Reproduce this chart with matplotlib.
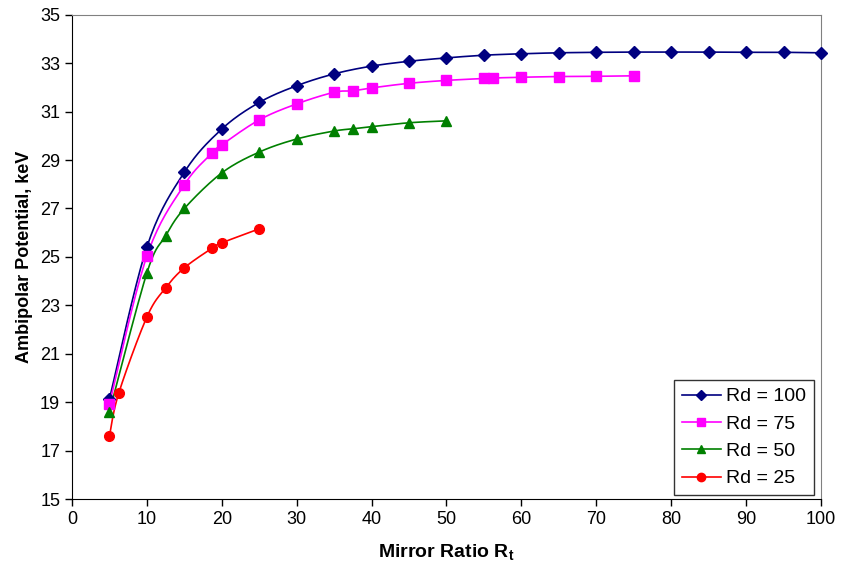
import matplotlib
matplotlib.use('Agg')
matplotlib.rc('font', **{'family': 'sans-serif', 'sans-serif': ['Liberation Sans', 'DejaVu Sans']})
import matplotlib.pyplot as plt
import numpy as np

# data
x100 = [5, 10, 15, 20, 25, 30, 35, 40, 45, 50, 55, 60, 65, 70, 75, 80, 85, 90, 95, 100]
y100 = [19.13, 25.41, 28.5, 30.28, 31.38, 32.07, 32.56, 32.88, 33.08, 33.22, 33.33, 33.39,
        33.43, 33.45, 33.46, 33.46, 33.46, 33.45, 33.45, 33.43]

x75 = [5, 10, 15, 18.75, 20, 25, 30, 35, 37.5, 40, 45, 50, 55, 56.25, 60, 65, 70, 75]
y75 = [18.93, 25.04, 27.98, 29.3, 29.63, 30.66, 31.32, 31.8, 31.86, 31.98, 32.17, 32.29,
       32.37, 32.39, 32.42, 32.45, 32.46, 32.48]

x50 = [5, 10, 12.5, 15, 20, 25, 30, 35, 37.5, 40, 45, 50]
y50 = [18.6, 24.34, 25.87, 27.0, 28.47, 29.33, 29.87, 30.2, 30.29, 30.38, 30.54, 30.62]

x25 = [5, 6.25, 10, 12.5, 15, 18.75, 20, 25]
y25 = [17.6, 19.38, 22.52, 23.72, 24.55, 25.37, 25.58, 26.16]

series = [
    ('Rd = 100', x100, y100, '#000080', 'D', 6),
    ('Rd = 75', x75, y75, '#ff00ff', 's', 7),
    ('Rd = 50', x50, y50, '#008000', '^', 7),
    ('Rd = 25', x25, y25, '#ff0000', 'o', 7),
]


def smooth(x, y, n=20):
    # Excel-like smoothed line: Catmull-Rom style bezier through points
    x = np.asarray(x, float)
    y = np.asarray(y, float)
    px = np.concatenate([[x[0]], x, [x[-1]]])
    py = np.concatenate([[y[0]], y, [y[-1]]])
    xs, ys = [], []
    t = np.linspace(0, 1, n)
    for i in range(1, len(px) - 2):
        p0 = np.array([px[i], py[i]])
        p3 = np.array([px[i + 1], py[i + 1]])
        p1 = p0 + (np.array([px[i + 1], py[i + 1]]) - np.array([px[i - 1], py[i - 1]])) / 6
        p2 = p3 - (np.array([px[i + 2], py[i + 2]]) - np.array([px[i], py[i]])) / 6
        b = ((1 - t) ** 3)[:, None] * p0 + (3 * (1 - t) ** 2 * t)[:, None] * p1 \
            + (3 * (1 - t) * t ** 2)[:, None] * p2 + (t ** 3)[:, None] * p3
        xs.extend(b[:, 0])
        ys.extend(b[:, 1])
    return xs, ys


fig = plt.figure(figsize=(8.57, 5.69), dpi=100)
ax = fig.add_axes([0.084, 0.123, 0.874, 0.851])

for label, xs, ys, col, mk, ms in series:
    sx, sy = smooth(xs, ys)
    ax.plot(sx, sy, color=col, lw=1.2, zorder=2)
    ax.plot(xs, ys, ls='none', marker=mk, color=col, ms=ms, zorder=3, clip_on=False)
    ax.plot([], [], color=col, lw=1.2, marker=mk, ms=ms - 1, label=label)

ax.set_xlim(0, 100)
ax.set_ylim(15, 35)
ax.set_xticks(np.arange(0, 101, 10))
ax.set_yticks(np.arange(15, 36, 2))
ax.tick_params(direction='out', length=5, labelsize=13, width=1)

ax.spines['left'].set_color('black')
ax.spines['bottom'].set_color('black')
ax.spines['top'].set_color('#808080')
ax.spines['right'].set_color('#808080')

ax.set_xlabel(r'Mirror Ratio R$_\mathregular{t}$', fontsize=14, fontweight='bold', labelpad=11)
ax.set_ylabel('Ambipolar Potential, keV', fontsize=13, fontweight='bold', labelpad=5)

leg = ax.legend(loc='lower right', fontsize=14, frameon=True, fancybox=False,
                edgecolor='black', borderpad=0.4, labelspacing=0.5, handlelength=2.0,
                handletextpad=0.3, borderaxespad=0, bbox_to_anchor=(0.991, 0.008))
leg.get_frame().set_linewidth(1.0)

plt.savefig('out.png', dpi=100)
